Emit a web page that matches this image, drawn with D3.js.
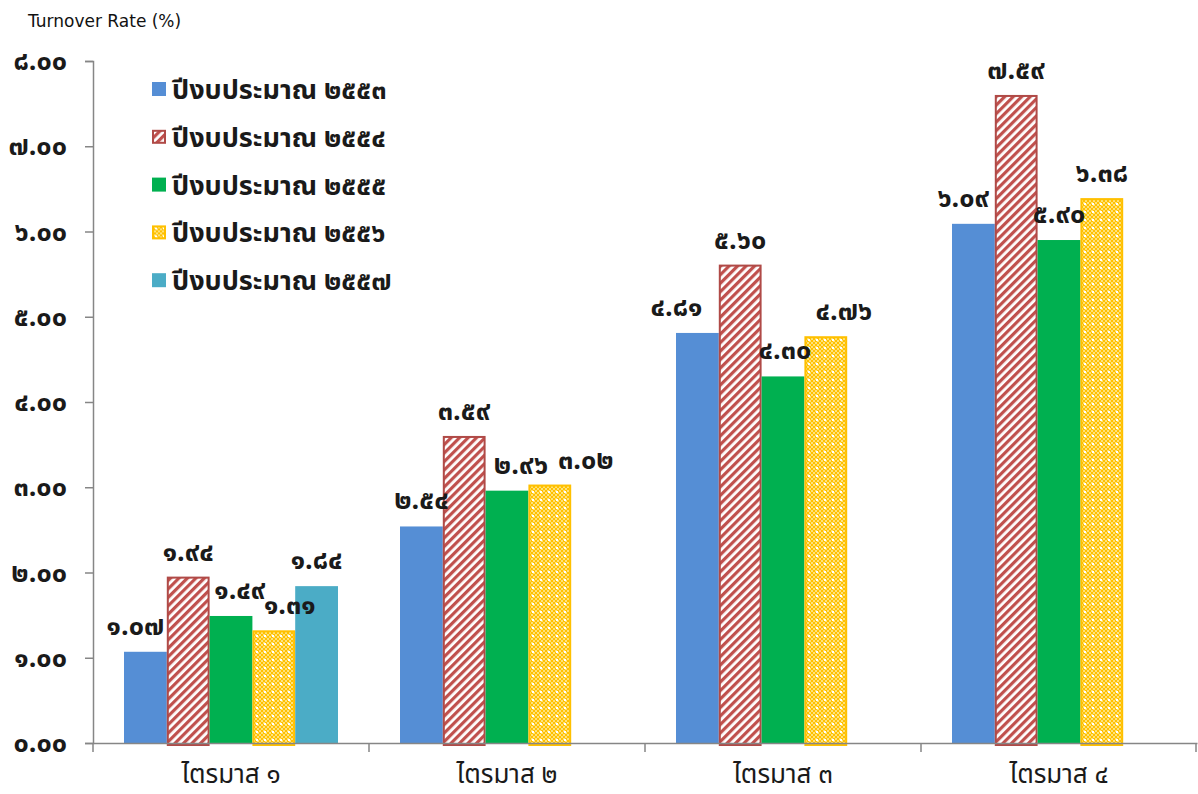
<!DOCTYPE html>
<html>
<head>
<meta charset="utf-8">
<script src="https://cdn.jsdelivr.net/npm/d3@7"></script>
<style>
  html, body { margin: 0; padding: 0; background: #fff; }
  svg { display: block; }
  .thai { font-family: Tahoma, "Noto Sans Thai", "Noto Sans", "DejaVu Sans", sans-serif; }
</style>
</head>
<body>
<svg id="chart" width="1198" height="794"></svg>
<script>
// Quarterly turnover rate by fiscal year
const quarters = ["ไตรมาส ๑", "ไตรมาส ๒", "ไตรมาส ๓", "ไตรมาส ๔"];
const seriesNames = ["ปีงบประมาณ ๒๕๕๓", "ปีงบประมาณ ๒๕๕๔", "ปีงบประมาณ ๒๕๕๕", "ปีงบประมาณ ๒๕๕๖", "ปีงบประมาณ ๒๕๕๗"];
const fy2553 = [1.07, 2.54, 4.81, 6.09];
const fy2554 = [1.94, 3.59, 5.60, 7.59];
const fy2555 = [1.49, 2.96, 4.30, 5.90];
const fy2556 = [1.31, 3.02, 4.76, 6.38];
const fy2557 = [1.84, null, null, null];
const yTicks = [0, 1, 2, 3, 4, 5, 6, 7, 8];

// horizontal nudges for value labels so neighbours don't collide (per series, per quarter)
const labelNudge = [
  [-10, 0, -21, -10],
  [0, 0, 0, 0],
  [9, 14, 2, 0],
  [16, 36, 18, 0],
  [0, 0, 0, 0]
];

const seriesValues = [fy2553, fy2554, fy2555, fy2556, fy2557];

const thaiDigits = "๐๑๒๓๔๕๖๗๘๙";
const toThai = s => String(s).replace(/[0-9]/g, d => thaiDigits[+d]);
const fmt = v => toThai(v.toFixed(2));

const svg = d3.select("#chart");
const defs = svg.append("defs");

// diagonal hatch for FY2554
const hatch = defs.append("pattern")
  .attr("id", "hatch").attr("patternUnits", "userSpaceOnUse")
  .attr("width", 6).attr("height", 6)
  .attr("patternTransform", "rotate(45)");
hatch.append("rect").attr("width", 6).attr("height", 6).attr("fill", "#fff");
hatch.append("rect").attr("width", 3.2).attr("height", 6).attr("fill", "#c0504d");

// dotted checker for FY2556
const dots = defs.append("pattern")
  .attr("id", "dots").attr("patternUnits", "userSpaceOnUse")
  .attr("width", 8).attr("height", 8);
dots.append("rect").attr("width", 8).attr("height", 8).attr("fill", "#ffc000");
for (let i = 0; i < 4; i++) for (let j = 0; j < 4; j++) {
  if ((i + j) % 2 === 0) dots.append("rect").attr("x", i * 2).attr("y", j * 2)
    .attr("width", 2).attr("height", 2).attr("fill", "#ffe27a");
}
dots.append("rect").attr("x", 3).attr("y", 3).attr("width", 2).attr("height", 2).attr("fill", "#fff");

const styles = [
  { fill: "#558ed5", stroke: "none" },
  { fill: "url(#hatch)", stroke: "#b04a47" },
  { fill: "#00b050", stroke: "none" },
  { fill: "url(#dots)", stroke: "#ffc000" },
  { fill: "#4bacc6", stroke: "none" }
];

const plotLeft = 93, plotRight = 1197, plotTop = 61, plotBottom = 743;

const y = d3.scaleLinear().domain([0, 8]).range([plotBottom, plotTop]);
const x0 = d3.scaleBand().domain(quarters).range([plotLeft, plotRight]).paddingInner(0).paddingOuter(0);
const x1 = d3.scaleBand().domain(d3.range(seriesNames.length))
  .range([31, x0.bandwidth() - 31]).padding(0);

// y axis
const yAxis = svg.append("g").attr("transform", `translate(${plotLeft},0)`)
  .call(d3.axisLeft(y).tickValues(yTicks).tickSize(8).tickPadding(18).tickFormat(fmt));
yAxis.select(".domain").attr("stroke", "#868686").attr("stroke-width", 1.5);
yAxis.selectAll(".tick line").attr("stroke", "#868686").attr("stroke-width", 1.5);
yAxis.selectAll(".tick text").attr("class", "thai").attr("font-size", 27)
  .attr("font-weight", "bold").attr("fill", "#1a1a1a");

// bars
const groups = svg.append("g").selectAll("g")
  .data(quarters).join("g")
  .attr("transform", d => `translate(${x0(d)},0)`);

const cells = (q, qi) => seriesValues.map((vals, si) => ({ si, qi, v: vals[qi] })).filter(d => d.v != null);
const outlined = si => styles[si].stroke !== "none";

groups.selectAll("rect")
  .data(cells)
  .join("rect")
  .attr("x", d => x1(d.si) + (outlined(d.si) ? 1 : 0))
  .attr("width", d => x1.bandwidth() - (outlined(d.si) ? 2 : 0))
  .attr("y", d => y(d.v))
  .attr("height", d => y(0) - y(d.v) + (outlined(d.si) ? 2 : 0))
  .attr("fill", d => styles[d.si].fill)
  .attr("stroke", d => styles[d.si].stroke)
  .attr("stroke-width", 2);

// x axis
const xAxis = svg.append("g").attr("transform", `translate(0,${plotBottom})`)
  .call(d3.axisBottom(x0).tickSize(0).tickPadding(22));
xAxis.select(".domain").attr("stroke", "#868686").attr("stroke-width", 1.5);
xAxis.selectAll(".tick text").attr("class", "thai").attr("font-size", 26)
  .attr("fill", "#1a1a1a");
// category separators
svg.append("g").selectAll("line")
  .data(quarters.map(q => x0(q)).concat([plotRight - 1]))
  .join("line")
  .attr("x1", d => d).attr("x2", d => d)
  .attr("y1", plotBottom).attr("y2", plotBottom + 9)
  .attr("stroke", "#868686").attr("stroke-width", 1.5);

// value labels
groups.selectAll("text.val")
  .data(cells)
  .join("text")
  .attr("class", "val thai")
  .attr("x", d => x1(d.si) + x1.bandwidth() / 2 + labelNudge[d.si][d.qi])
  .attr("y", d => y(d.v) - 17)
  .attr("text-anchor", "middle")
  .attr("font-size", 27).attr("font-weight", "bold").attr("fill", "#1a1a1a")
  .text(d => fmt(d.v));

// legend
const legend = svg.append("g").attr("transform", "translate(152,89)")
  .selectAll("g").data(seriesNames).join("g")
  .attr("transform", (d, i) => `translate(0,${i * 47.8})`);
legend.append("rect")
  .attr("x", (d, i) => outlined(i) ? 1 : 0)
  .attr("y", (d, i) => outlined(i) ? -6 : -7)
  .attr("width", (d, i) => outlined(i) ? 12 : 14)
  .attr("height", (d, i) => outlined(i) ? 12 : 14)
  .attr("fill", (d, i) => styles[i].fill)
  .attr("stroke", (d, i) => styles[i].stroke)
  .attr("stroke-width", 2);
legend.append("text")
  .attr("class", "thai").attr("x", 20).attr("y", 10)
  .attr("font-size", 27).attr("font-weight", "bold").attr("fill", "#1a1a1a")
  .text(d => d);

// axis title
svg.append("text").attr("x", 28).attr("y", 27)
  .attr("font-family", "'DejaVu Sans', Verdana, sans-serif").attr("font-size", 17)
  .attr("fill", "#111").text("Turnover Rate (%)");
</script>
</body>
</html>
